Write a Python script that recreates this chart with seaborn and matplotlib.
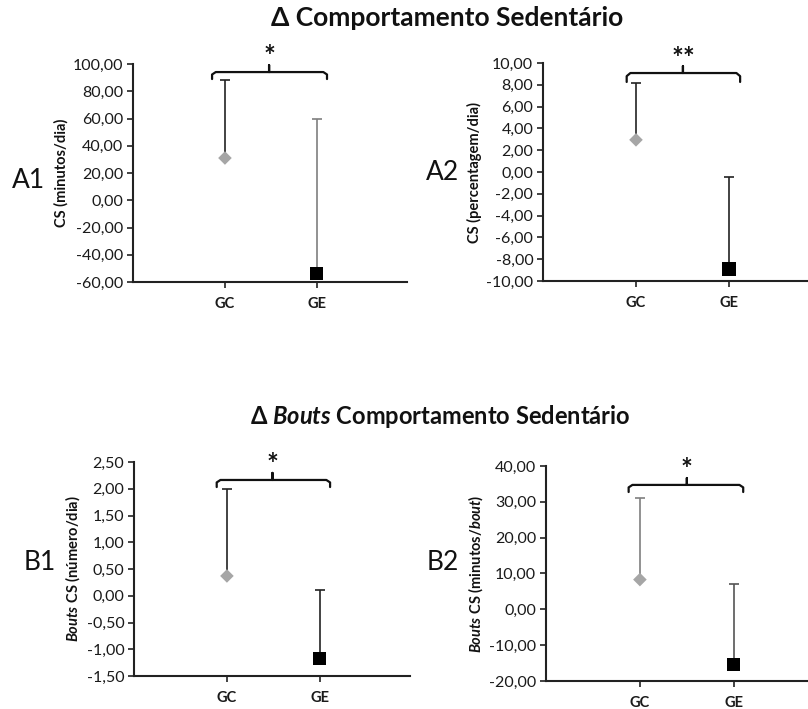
import numpy as np
import pandas as pd
import matplotlib
matplotlib.use("Agg")
import matplotlib.pyplot as plt
import matplotlib.transforms as mtransforms
import seaborn as sns

sns.set_theme(style="white")
plt.rcParams['font.family'] = ['Lato', 'DejaVu Sans']
plt.rcParams['mathtext.fontset'] = 'custom'
plt.rcParams['mathtext.rm'] = 'Lato:bold'
plt.rcParams['mathtext.bf'] = 'Lato:bold'
plt.rcParams['mathtext.it'] = 'Lato:italic:bold'
plt.rcParams['mathtext.bfit'] = 'Lato:italic:bold'

# ---------------- data ----------------
groups = ["GC", "GE"]

a1_mean = [31.0, -54.0]
a1_upper = [88.0, 60.0]
a1_ticks = [-60, -40, -20, 0, 20, 40, 60, 80, 100]

a2_mean = [2.95, -8.9]
a2_upper = [8.2, -0.5]
a2_ticks = [-10, -8, -6, -4, -2, 0, 2, 4, 6, 8, 10]

b1_mean = [0.37, -1.17]
b1_upper = [1.99, 0.10]
b1_ticks = [-1.5, -1.0, -0.5, 0.0, 0.5, 1.0, 1.5, 2.0, 2.5]

b2_mean = [8.3, -15.4]
b2_upper = [31.1, 7.1]
b2_ticks = [-20, -10, 0, 10, 20, 30, 40]

panel_labels = ["A1", "A2", "B1", "B2"]
ylabels = ["CS (minutos/dia)", "CS (percentagem/dia)",
           r"$\mathbfit{Bouts}$ CS (número/dia)",
           r"$\mathbfit{Bouts}$ CS (minutos/$\mathbfit{bout}$)"]
signif = ["*", "**", "*", "*"]
title_a = "Δ Comportamento Sedentário"
title_b = r"Δ $\mathbfit{Bouts}$ Comportamento Sedentário"

# ---------------- layout ----------------
W, H = 808, 709
fig = plt.figure(figsize=(W / 100, H / 100), dpi=100)

def px_axes(left, top, right, bottom):
    return fig.add_axes([left / W, 1 - bottom / H, (right - left) / W, (bottom - top) / H])

axes_spec = [
    dict(box=(133, 64, 407, 282), xlim=(-1.0, 1.98), br=(-0.14, 1.11, 0.48), by=(0.963, 0.931, 0.995, 1.03),
         lab=(28, 180), ecol=["#222222", "#7f7f7f"]),
    dict(box=(543, 63, 808, 281), xlim=(-1.0, 1.85), br=(-0.10, 1.12, 0.505), by=(0.954, 0.913, 0.986, 1.02),
         lab=(443, 173), ecol=["#222222", "#222222"]),
    dict(box=(134, 462, 410, 676), xlim=(-1.0, 1.97), br=(-0.11, 1.11, 0.49), by=(0.916, 0.883, 0.949, 0.985),
         lab=(40, 563), ecol=["#222222", "#222222"]),
    dict(box=(546, 466, 808, 681), xlim=(-1.0, 1.79), br=(-0.12, 1.10, 0.50), by=(0.912, 0.879, 0.944, 0.98),
         lab=(443, 563), ecol=["#7f7f7f", "#555555"]),
]

datasets = [(a1_mean, a1_upper, a1_ticks), (a2_mean, a2_upper, a2_ticks),
            (b1_mean, b1_upper, b1_ticks), (b2_mean, b2_upper, b2_ticks)]

for i, (spec, (mean, upper, ticks)) in enumerate(zip(axes_spec, datasets)):
    ax = px_axes(*spec["box"])
    df = pd.DataFrame({"grupo": groups, "valor": mean, "sup": upper})
    # one-sided (upper) error bars
    for j, g in enumerate(groups):
        ax.errorbar([g], [mean[j]], yerr=[[0], [upper[j] - mean[j]]], fmt="none",
                    ecolor=spec["ecol"][j], elinewidth=1.2, capsize=3.5, capthick=1.2, zorder=2)
    sns.scatterplot(data=df, x="grupo", y="valor", hue="grupo", style="grupo",
                    palette={"GC": "#a6a6a6", "GE": "#000000"},
                    markers={"GC": "D", "GE": "s"}, size="grupo",
                    sizes={"GC": 48, "GE": 90}, edgecolor="none",
                    legend=False, ax=ax, zorder=3)
    ax.set_xlim(*spec["xlim"])
    ax.set_ylim(ticks[0], ticks[-1])
    ax.set_yticks(ticks)
    ax.set_yticklabels([f"{t:.2f}".replace(".", ",") for t in ticks], fontsize=11.5, color="#1a1a1a")
    ax.set_xticks([0, 1])
    ax.set_xticklabels(groups, fontsize=10.5, fontweight="bold", color="#1a1a1a")
    ax.set_xlabel("")
    ax.set_ylabel(ylabels[i], fontsize=10.5, fontweight="bold", color="#111111", labelpad=3)
    for s in ["top", "right"]:
        ax.spines[s].set_visible(False)
    for s in ["left", "bottom"]:
        ax.spines[s].set_color("#222222")
        ax.spines[s].set_linewidth(1.5)
    ax.tick_params(axis="y", direction="out", length=4, width=1.2, color="#222222", pad=3, left=True)
    ax.tick_params(axis="x", direction="out", length=4, width=1.2, color="#222222", pad=6.5, bottom=True)
    ax.set_facecolor("none")
    ax.grid(False)

    # significance bracket
    tr = mtransforms.blended_transform_factory(ax.transData, ax.transAxes)
    x0, x1, xm = spec["br"]
    yb, ye, yn, ys = spec["by"]
    r = 0.04
    rr = (yb - ye) * 0.35
    xs = [x0, x0, x0 + r, xm - 0.02, xm, xm, xm, xm + 0.02, x1 - r, x1, x1]
    ys_ = [ye, yb - rr, yb, yb, yb, yn, yb, yb, yb, yb - rr, ye]
    ax.plot(xs, ys_, color="#111111", lw=1.6, transform=tr, clip_on=False, solid_joinstyle="round")
    ax.text(xm, ys, signif[i], transform=tr, ha="center", va="center", fontsize=20,
            fontweight="bold", color="#111111", clip_on=False)

    lx, ly = spec["lab"]
    fig.text(lx / W, 1 - ly / H, panel_labels[i], ha="center", va="center", fontsize=19, color="#111111")

fig.text(447 / W, 1 - 18 / H, title_a, ha="center", va="center", fontsize=19, fontweight="bold", color="#111111")
fig.text(440 / W, 1 - 417 / H, title_b, ha="center", va="center", fontsize=17, fontweight="bold", color="#111111")

fig.savefig("out.png", dpi=100, facecolor="white")
